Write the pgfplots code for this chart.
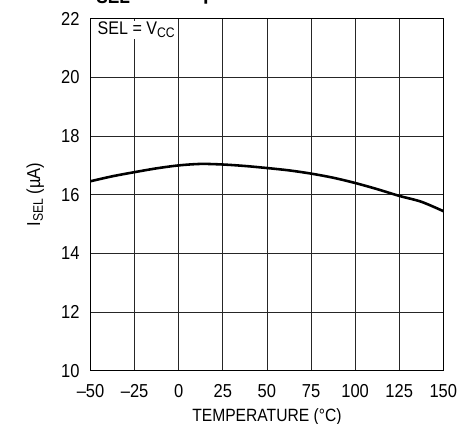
\documentclass[border=0pt]{standalone}
\usepackage{fontspec}
\setmainfont[FakeStretch=0.88]{Liberation Sans}
\usepackage{pgfplots}
\pgfplotsset{compat=1.18}
\newcommand{\fs}[1]{\fontsize{#1}{#1}\selectfont}
\begin{document}
\fs{18}
\begin{tikzpicture}
\begin{axis}[
  scale only axis,
  width=356bp, height=355bp,
  xmin=-50, xmax=150, ymin=10, ymax=22,
  xtick={-50,-25,0,25,50,75,100,125,150},
  xticklabels={\textendash50,\textendash25,0,25,50,75,100,125,150},
  ytick={10,12,14,16,18,20,22},
  yticklabels={10,12,14,16,18,20,22},
  major tick length=0,
  grid=major,
  major grid style={black!85, line width=0.7pt},
  axis line style={black, line width=0.9pt},
  tick label style={font=\fs{19}},
  xticklabel style={yshift=-7.5bp},
  yticklabel style={xshift=-5bp},
  xlabel={TEMPERATURE (°C)},
  ylabel={I\raisebox{-3bp}{\fs{14}SEL} (µA)},
  xlabel style={font=\fs{18}, at={(rel axis cs:0.5,0)}, anchor=base, yshift=-51bp},
  ylabel style={font=\fs{19}, at={(rel axis cs:0,0.5)}, anchor=base, yshift=51bp},
  clip=false,
]
\addplot[black, line width=2.6pt, smooth] coordinates {
  (-50,16.46) (-37.5,16.63) (-25,16.77) (-12.5,16.90) (0,17.00) (12.5,17.05) (25,17.03)
  (37.5,16.98) (50,16.91) (62.5,16.83) (75,16.72) (87.5,16.58) (100,16.40)
  (112.5,16.19) (125,15.96) (137.5,15.76) (150,15.44)
};
\node[anchor=base west, fill=white, inner xsep=1bp, inner ysep=1bp, font=\fs{18.5}]
  at (rel axis cs:0,1) [xshift=6bp, yshift=-16bp] {SEL = V\raisebox{-3bp}{\fs{14}CC}};
\node[anchor=base west, inner sep=0pt]
  at (rel axis cs:0,1) [xshift=0bp, yshift=20bp]
  {\bfseries\fs{23}I\raisebox{-5bp}{\fs{20}SEL} vs Temperature};
\coordinate (bl) at (rel axis cs:0,0);
\coordinate (tr) at (rel axis cs:1,1);
\end{axis}
\pgfresetboundingbox
\useasboundingbox ([shift={(-87bp,-53bp)}]bl) rectangle ([shift={(32bp,19bp)}]tr);
\end{tikzpicture}
\end{document}
